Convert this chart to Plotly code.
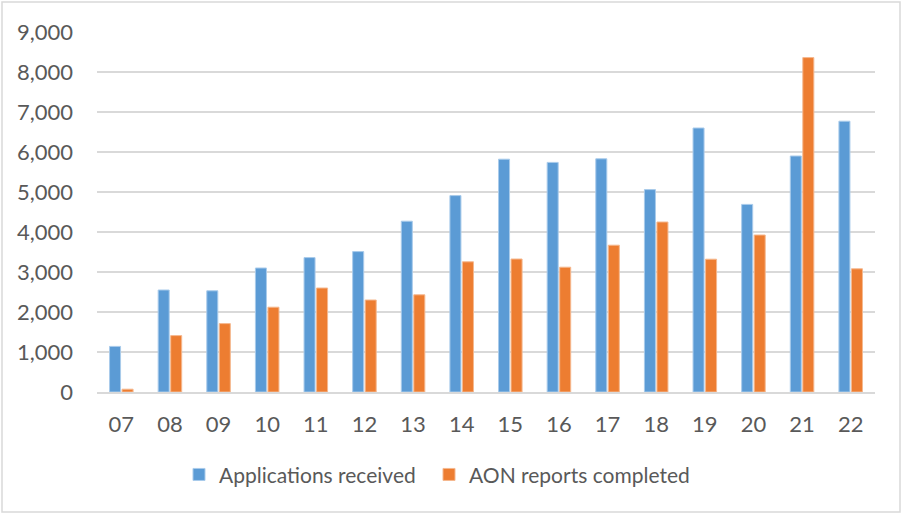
import plotly.graph_objects as go

years = ["07", "08", "09", "10", "11", "12", "13", "14", "15", "16", "17", "18", "19", "20", "21", "22"]
applications = [1140, 2550, 2530, 3100, 3360, 3510, 4270, 4910, 5820, 5740, 5830, 5060, 6600, 4690, 5900, 6770]
aon_reports = [70, 1410, 1710, 2120, 2600, 2300, 2430, 3255, 3325, 3120, 3670, 4250, 3320, 3925, 8360, 3080]
tick_vals = [0, 1000, 2000, 3000, 4000, 5000, 6000, 7000, 8000, 9000]
tick_text = ["0", "1,000", "2,000", "3,000", "4,000", "5,000", "6,000", "7,000", "8,000", "9,000"]

font_family = "Lato, 'Liberation Sans', sans-serif"
fs = 22

fig = go.Figure()
fig.add_trace(go.Bar(
    x=years, y=applications, name="Applications received", legend="legend",
    marker=dict(color="#5B9BD5", line=dict(color="#A9CBEB", width=1)),
))
fig.add_trace(go.Bar(
    x=years, y=aon_reports, name="AON reports completed", legend="legend2",
    marker=dict(color="#ED7D31", line=dict(color="#F5B88F", width=1)),
))

leg_common = dict(orientation="h", xanchor="left", y=-0.23, yanchor="middle",
                  font=dict(size=21, color="#595959"), bgcolor="rgba(0,0,0,0)")

fig.update_layout(
    width=904, height=514,
    margin=dict(l=97, r=29, t=32, b=122),
    paper_bgcolor="white", plot_bgcolor="white",
    barmode="group", bargap=0.485, bargroupgap=0.12,
    font=dict(family=font_family, size=fs, color="#595959"),
    showlegend=True,
    legend=dict(x=(179 - 97) / 778, **leg_common),
    legend2=dict(x=(429 - 97) / 778, **leg_common),
    xaxis=dict(type="category", showgrid=False, showline=True, linecolor="#D9D9D9", linewidth=1.5,
               ticks="", ticklabelstandoff=12, tickfont=dict(size=fs, color="#595959")),
    yaxis=dict(range=[0, 9000], tickvals=tick_vals, ticktext=tick_text, showgrid=True,
               gridcolor="#D9D9D9", gridwidth=1.5, zeroline=False, showline=False,
               ticks="", ticklabelstandoff=23, tickfont=dict(size=fs, color="#595959")),
    shapes=[dict(type="rect", xref="paper", yref="paper",
                 x0=(2 - 97) / 778, x1=(900 - 97) / 778,
                 y0=(392 - 512) / 360, y1=(392 - 2) / 360,
                 line=dict(color="#D9D9D9", width=1.5), fillcolor="rgba(0,0,0,0)", layer="below")],
)

fig.write_html("out.html", config={"displayModeBar": False},
               post_script="document.body.style.margin='0';")
